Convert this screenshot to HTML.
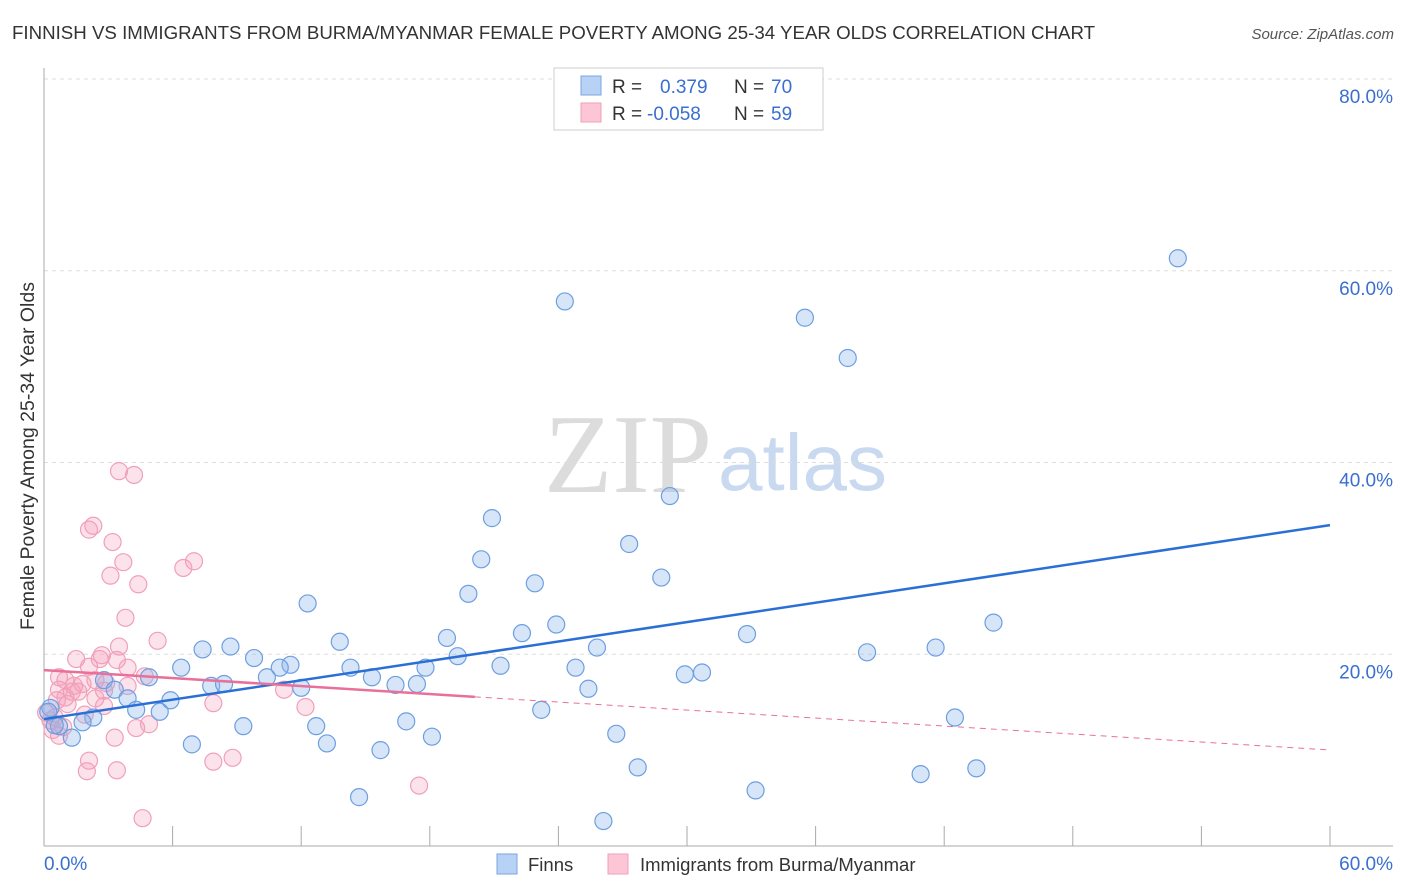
<!DOCTYPE html>
<html><head><meta charset="utf-8"><style>
body{margin:0;background:#fff;font-family:"Liberation Sans",sans-serif;}
svg{display:block}
</style></head><body>
<svg id="chart" width="1406" height="892">
<text x="12" y="39" font-size="18.7" fill="#333">FINNISH VS IMMIGRANTS FROM BURMA/MYANMAR FEMALE POVERTY AMONG 25-34 YEAR OLDS CORRELATION CHART</text>
<text x="1394" y="39" font-size="15" fill="#555" font-style="italic" text-anchor="end">Source: ZipAtlas.com</text>
<text transform="translate(34,456) rotate(-90)" font-size="19.5" fill="#333" text-anchor="middle">Female Poverty Among 25-34 Year Olds</text>
<text x="712" y="492" font-size="112" font-family="Liberation Serif,serif" fill="#dcdcdc" text-anchor="end">ZIP</text>
<text x="718" y="490" font-size="80" fill="#c8d9f0">atlas</text>
<g id="grid"></g><g id="axes"></g><g id="marks"></g>
<g>
<rect x="554" y="68" width="269" height="62" fill="#fff" stroke="#ccc"/>
<rect x="581" y="76" width="20" height="19" fill="#b8d2f5" stroke="#7aa6e0"/>
<rect x="581" y="103" width="20" height="19" fill="#fcc6d6" stroke="#f0a0b8"/>
<text x="612" y="93" font-size="19" fill="#333">R =</text>
<text x="660" y="93" font-size="19" fill="#3a6fd0">0.379</text>
<text x="734" y="93" font-size="19" fill="#333">N =</text>
<text x="771" y="93" font-size="19" fill="#3a6fd0">70</text>
<text x="612" y="120" font-size="19" fill="#333">R =</text>
<text x="647" y="120" font-size="19" fill="#3a6fd0">-0.058</text>
<text x="734" y="120" font-size="19" fill="#333">N =</text>
<text x="771" y="120" font-size="19" fill="#3a6fd0">59</text>
</g>
<g>
<rect x="497" y="854" width="20" height="20" fill="#b8d2f5" stroke="#7aa6e0"/>
<text x="528" y="871" font-size="18.5" fill="#333">Finns</text>
<rect x="608" y="854" width="20" height="20" fill="#fcc6d6" stroke="#f0a0b8"/>
<text x="640" y="871" font-size="18.5" fill="#333">Immigrants from Burma/Myanmar</text>
</g>
</svg>
<script>
const yTicks=[20,40,60,80];
const yTickLabels=["20.0%","40.0%","60.0%","80.0%"];
const xTicks=[0,6,12,18,24,30,36,42,48,54,60];
const finnsX=[52.9,24.3,35.5,37.5,29.2,20.9,27.3,20.4,28.8,22.9,19.8,12.3,23.9,44.3,22.3,32.8,18.8,13.8,25.8,38.4,41.6,7.4,8.7,19.3,9.8,11.5,11.0,6.4,21.3,14.3,24.8,30.7,29.9,17.8,4.9,10.4,15.3,2.8,7.8,8.4,16.4,17.4,12.0,25.4,3.3,3.9,5.9,4.3,5.4,23.2,42.5,2.3,16.9,9.3,12.7,1.8,0.7,0.5,1.3,6.9,13.2,18.1,26.7,15.7,27.7,43.5,40.9,14.7,33.2,26.1,0.3,0.2];
const finnsY=[61.3,56.8,55.1,50.9,36.5,34.2,31.5,29.9,28.0,27.4,26.3,25.3,23.1,23.3,22.2,22.1,21.7,21.3,20.7,20.2,20.7,20.5,20.8,19.8,19.6,18.9,18.6,18.6,18.8,18.6,18.6,18.1,17.9,18.6,17.6,17.6,17.6,17.3,16.7,16.9,16.8,16.9,16.5,16.4,16.3,15.4,15.2,14.2,14.0,14.2,13.4,13.4,13.0,12.5,12.5,12.9,12.5,12.6,11.3,10.6,10.7,11.4,11.7,10.0,8.2,8.1,7.5,5.1,5.8,2.6,14.4,14.0];
const burmaX=[3.5,4.2,2.3,2.1,3.2,3.7,3.1,6.5,7.0,4.4,3.8,5.3,3.5,1.5,2.6,2.7,3.4,2.1,3.9,4.7,0.7,1.0,1.4,1.8,0.7,1.3,2.4,2.9,1.6,1.0,2.4,2.8,7.9,12.2,11.2,3.9,1.1,1.9,0.3,0.5,0.1,0.4,0.9,0.7,4.3,4.9,3.3,2.1,2.0,3.4,7.9,8.8,17.5,4.6,2.8,0.6];
const burmaY=[39.1,38.7,33.4,33.0,31.7,29.6,28.2,29.0,29.7,27.3,23.8,21.4,20.8,19.5,19.5,19.9,19.4,18.7,18.6,17.7,17.6,17.3,16.7,16.9,16.3,16.1,17.3,17.0,16.1,15.5,15.4,14.6,14.9,14.5,16.3,16.7,14.8,13.7,13.1,13.4,13.9,12.1,12.4,11.5,12.3,12.7,11.3,8.9,7.8,7.9,8.8,9.2,6.3,2.9,16.2,15.2];
const finnsTrend=[13.24,33.47];
const burmaTrend=[18.35,10.01];
const burmaSolidEnd=20.1;

const NS="http://www.w3.org/2000/svg";
const X0=44,X1=1330,Y0=846,Y80=79;
const sx=v=>X0+(X1-X0)*v/60;
const sy=v=>Y0-(Y0-Y80)*v/80;
function mk(tag,attrs,parent){const e=document.createElementNS(NS,tag);for(const k in attrs)e.setAttribute(k,attrs[k]);document.getElementById(parent).appendChild(e);return e;}
yTicks.forEach((t,i)=>{
  const l=mk('line',{x1:X0,x2:1393,y1:sy(t),y2:sy(t),stroke:'#ddd','stroke-dasharray':'4,4'},'grid');
  
  
  const tx=mk('text',{x:1393,y:sy(t)+24,'font-size':19,fill:'#3a6fd0','text-anchor':'end'},'grid');
  tx.textContent=yTickLabels[i];
  
  
});
let a=mk('line',{x1:X0,x2:X0,y1:68,y2:Y0,stroke:'#aaa'},'axes');


a=mk('line',{x1:X0,x2:1393,y1:Y0,y2:Y0,stroke:'#aaa'},'axes');


xTicks.forEach(t=>{const l=mk('line',{x1:sx(t),x2:sx(t),y1:826,y2:Y0,stroke:'#aaa'},'axes');
  
  });
let t=mk('text',{x:44,y:870,'font-size':19,fill:'#3a6fd0'},'axes');t.textContent='0.0%';


t=mk('text',{x:1393,y:870,'font-size':19,fill:'#3a6fd0','text-anchor':'end'},'axes');t.textContent='60.0%';


burmaX.forEach((x,i)=>{const c=mk('circle',{cx:sx(x),cy:sy(burmaY[i]),r:8.5,fill:'rgba(245,160,190,0.3)',stroke:'#f0a0b8','stroke-width':1.2},'marks');
  
  });
finnsX.forEach((x,i)=>{const c=mk('circle',{cx:sx(x),cy:sy(finnsY[i]),r:8.5,fill:'rgba(140,180,235,0.35)',stroke:'#6d9fe0','stroke-width':1.2},'marks');
  
  });
let ln=mk('line',{x1:sx(0),y1:sy(finnsTrend[0]),x2:sx(60),y2:sy(finnsTrend[1]),stroke:'#2a6fd6','stroke-width':2.5},'marks');


const pe=burmaTrend[0]+(burmaTrend[1]-burmaTrend[0])*burmaSolidEnd/60;
ln=mk('line',{x1:sx(0),y1:sy(burmaTrend[0]),x2:sx(burmaSolidEnd),y2:sy(pe),stroke:'#e8709a','stroke-width':2.5},'marks');


ln=mk('line',{x1:sx(burmaSolidEnd),y1:sy(pe),x2:sx(60),y2:sy(burmaTrend[1]),stroke:'#e8709a','stroke-width':1,'stroke-dasharray':'6,5'},'marks');


</script>
</body></html>
